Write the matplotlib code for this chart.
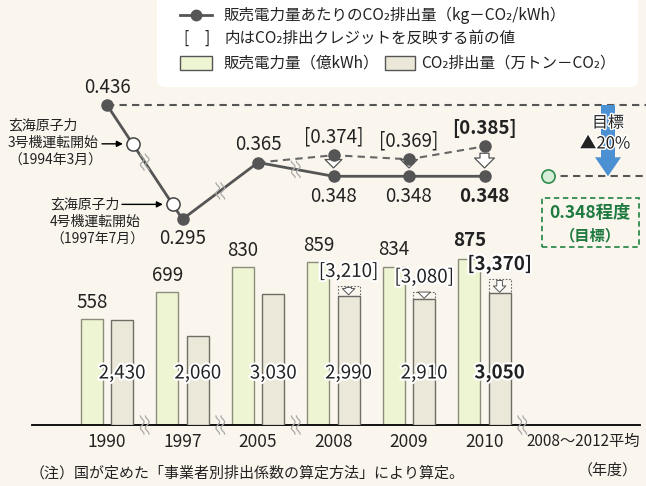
import numpy as np
import matplotlib.pyplot as plt
import matplotlib.patheffects as pe
from matplotlib.patches import FancyBboxPatch, Rectangle
from matplotlib.lines import Line2D
from matplotlib.transforms import IdentityTransform

plt.rcParams['font.family'] = ['Noto Sans CJK JP', 'DejaVu Sans']

# data
years = ['1990', '1997', '2005', '2008', '2009', '2010']
avg_label = '2008～2012平均'
sales = [558, 699, 830, 859, 834, 875]            # 億kWh
co2 = [2430, 2060, 3030, 2990, 2910, 3050]        # 万トン-CO2
co2_before = [3210, 3080, 3370]                   # 2008-2010, before credits
intensity = [0.436, 0.295, 0.365, 0.348, 0.348, 0.348]
intensity_before = [0.374, 0.369, 0.385]          # 2008-2010, before credits
target = 0.348
reduction = '▲20%'

W, H = 646, 486
BG = '#faf6ee'
GREEN = '#eef5d2'
BEIGE = '#ece8d9'
DARK = '#555555'
TXT = '#222222'
NUM = 13.5
halo = [pe.withStroke(linewidth=3, foreground='white')]
thin_halo = [pe.withStroke(linewidth=2, foreground='white')]

fig = plt.figure(figsize=(6.46, 4.86), dpi=100, facecolor=BG)


def fx(px):
    # pixel x -> category position
    return (px - 107) / 75.5


XL = (fx(0), fx(W))
x = np.arange(len(years))

# ---------------- bars ----------------
axg = fig.add_axes([0, 61 / H, 1, 185 / H])
axg.set_facecolor('none')
axg.set_xlim(XL)
axg.set_ylim(0, 185 / 0.19)
axc = axg.twinx()
axc.set_ylim(0, 185 / 0.0433)
for a in (axg, axc):
    for s in a.spines.values():
        s.set_visible(False)
    a.set_yticks([])

bw = 0.29
axg.bar(x - 0.2, sales, bw, color=GREEN, edgecolor='#8c8c7c', lw=1)
axc.bar(x + 0.2, co2, bw, color=BEIGE, edgecolor='#6e6e66', lw=1)
diff = np.subtract(co2_before, co2[3:])
axc.bar(x[3:] + 0.2, diff, bw, bottom=co2[3:], fill=False,
        edgecolor='#666666', ls=(0, (1.5, 1.5)), lw=0.8)
for xi, lo, hi in zip(x[3:], co2[3:], co2_before):
    axc.annotate('', xy=(xi + 0.2, lo), xytext=(xi + 0.2, hi),
                 arrowprops=dict(arrowstyle='simple,head_length=0.5,head_width=1.0,tail_width=0.45',
                                 fc='white', ec=DARK, lw=0.7, shrinkA=1, shrinkB=0.5,
                                 mutation_scale=9))

axg.plot([fx(32), fx(640)], [0, 0], color='black', lw=1.3, clip_on=False)

axg.set_xticks(list(x) + [fx(583)], years + [avg_label])
axg.tick_params(axis='x', length=0, pad=6, labelsize=12.5, labelcolor=TXT)
axg.get_xticklabels()[-1].set_fontsize(11)

for i, v in enumerate(sales):
    axg.annotate(f'{v}', (x[i] - 0.2, v), xytext=(0, 13 if i == 5 else 12),
                 textcoords='offset points', ha='center', va='center', fontsize=NUM,
                 color=TXT, fontweight='bold' if i == 5 else 'normal')
for i, v in enumerate(co2):
    axc.text(x[i] + 0.2, 0.281, f'{v:,}', transform=axc.get_xaxis_transform(),
             ha='center', va='center', fontsize=NUM, color=TXT,
             fontweight='bold' if i == 5 else 'normal', path_effects=halo)
for k, v in enumerate(co2_before):
    i = k + 3
    axc.annotate(f'[{v:,}]', (x[i] + 0.2, v), xytext=(0, 10.5), textcoords='offset points',
                 ha='center', va='center', fontsize=NUM, color=TXT,
                 fontweight='bold' if i == 5 else 'normal', path_effects=halo)

# ---------------- line ----------------
SC = 810
YT = 0.436 + 105 / SC
axl = fig.add_axes([0, 0, 1, 1])
axl.set_xlim(XL)
axl.set_ylim(YT - H / SC, YT)
axl.axis('off')
axl.patch.set_alpha(0)


def fy(py):
    return YT - py / SC


dash = (0, (3.5, 2.5))
axl.plot([0, XL[1]], [intensity[0]] * 2, ls=dash, color=DARK, lw=1.5, zorder=1)
axl.plot(x[2:], [intensity[2]] + intensity_before, ls=dash, color='#666666', lw=1.5, zorder=2)
axl.plot(x, intensity, color=DARK, lw=2, marker='o', ms=8, mfc=DARK, mec=DARK, zorder=3)
axl.plot(x[3:], intensity_before, 'o', color=DARK, ms=8, zorder=3)

# nuclear unit start markers on the 1990-1997 segment
hx = np.array([0.34, 0.87])
hy = np.interp(hx, x[:2], intensity[:2])
axl.plot(hx, hy, 'o', mfc='white', mec='#444444', mew=1.1, ms=9.5, zorder=4)

# target
axl.plot([fx(548), XL[1]], [target] * 2, ls=dash, color=DARK, lw=1.5, zorder=1)
axl.plot([fx(548)], [target], 'o', mfc='#d8eed8', mec='#2e8b4e', mew=1.2, ms=9.5, zorder=4)
axl.arrow(fx(608), intensity[0], 0, target - intensity[0], width=14 / 75.5,
          head_width=26 / 75.5, head_length=19 / SC, length_includes_head=True,
          fc='#4a90d2', ec='none', zorder=2)
axl.text(fx(608), fy(123), '目標', ha='center', va='center', fontsize=11.5,
         color=TXT, path_effects=thin_halo, zorder=5)
axl.text(fx(605), fy(144), reduction, ha='center', va='center', fontsize=12,
         color=TXT, path_effects=thin_halo, zorder=5)

# arrows from "before" to "after"
for k, v in enumerate(intensity_before):
    i = k + 3
    axl.annotate('', xy=(x[i], intensity[i]), xytext=(x[i], v),
                 arrowprops=dict(arrowstyle='simple,head_length=0.55,head_width=1.1,tail_width=0.5',
                                 fc='white', ec=DARK, lw=0.9, shrinkA=5, shrinkB=6,
                                 mutation_scale=13 if i == 5 else 11), zorder=2)

# value labels
offs = [12.5, -14, 13, -14.5, -14.5, -14.5]
for i, v in enumerate(intensity):
    axl.annotate(f'{v:.3f}', (x[i], v), xytext=(0, offs[i]), textcoords='offset points',
                 ha='center', va='center', fontsize=NUM, color=TXT,
                 fontweight='bold' if i == 5 else 'normal')
for k, v in enumerate(intensity_before):
    i = k + 3
    axl.annotate(f'[{v:.3f}]', (x[i], v), xytext=(0, 13), textcoords='offset points',
                 ha='center', va='center', fontsize=NUM, color=TXT,
                 fontweight='bold' if i == 5 else 'normal')


def px_y(ax, xd, yd):
    return H - ax.transData.transform((xd, yd))[1]


# nuclear plant notes
py1 = px_y(axl, hx[0], hy[0])
py2 = px_y(axl, hx[1], hy[1])
for j, s in enumerate(['玄海原子力', '3号機運転開始', '（1994年3月）']):
    fig.text(8 / W, 1 - (py1 - 18 + 17.5 * j) / H, s, ha='left', va='center',
             fontsize=10, color=TXT)
for j, s in enumerate(['玄海原子力', '4号機運転開始', '（1997年7月）']):
    fig.text(50 / W, 1 - (py2 + 17.5 * j) / H, s, ha='left', va='center',
             fontsize=10, color=TXT)
axl.annotate('', xy=(hx[0], hy[0]), xytext=(102, H - py1), textcoords='figure pixels',
             arrowprops=dict(arrowstyle='-|>', color='black', lw=1, shrinkA=0, shrinkB=7,
                             mutation_scale=9))
axl.annotate('', xy=(hx[1], hy[1]), xytext=(122, H - py2), textcoords='figure pixels',
             arrowprops=dict(arrowstyle='-|>', color='black', lw=1, shrinkA=0, shrinkB=7,
                             mutation_scale=9))


# wavy break marks
def wave(ax, xd, yd, h=16):
    cx, cy = ax.transData.transform((xd, yd))
    t = np.linspace(-1, 1, 40)
    for dx in (-2.5, 2.5):
        xs = cx + dx + 1.8 * np.sin(t * np.pi * 1.5)
        ys = cy + t * h / 2
        fig.add_artist(Line2D(xs, ys, transform=IdentityTransform(), color='#a8a8a8', lw=0.9,
                              zorder=6))


for i in range(3):
    wave(axl, x[i] + 0.5, np.interp(x[i] + 0.5, x, intensity))
for i in [0, 1, 2, 5]:
    wave(axg, x[i] + 0.5, 0, h=18)

# ---------------- legend box ----------------
fig.add_artist(FancyBboxPatch((157 / 100, (H - 87) / 100), (638 - 157) / 100, 1.2,
                              boxstyle='round,pad=0,rounding_size=0.08',
                              transform=fig.dpi_scale_trans, fc='white', ec='none', zorder=7))


def ftext(px, py, s, **kw):
    kw.setdefault('fontsize', 11.2)
    kw.setdefault('color', TXT)
    fig.text(px / W, 1 - py / H, s, va='center', zorder=8, **kw)


fig.add_artist(Line2D(np.array([180, 196, 212]) / W, [1 - 15 / H] * 3, transform=fig.transFigure,
                      color=DARK, lw=2, marker='o', ms=7.5, markevery=[1], zorder=8))
ftext(224, 15, '販売電力量あたりのCO₂排出量（kg－CO₂/kWh）')
ftext(183, 38, '[')
ftext(205, 38, ']')
ftext(224, 38, '内はCO₂排出クレジットを反映する前の値')
fig.add_artist(Rectangle((180 / W, 1 - 70 / H), 32 / W, 14 / H, transform=fig.transFigure,
                         fc=GREEN, ec='#555555', lw=1, zorder=8))
ftext(224, 63, '販売電力量（億kWh）')
fig.add_artist(Rectangle((385 / W, 1 - 70 / H), 30 / W, 14 / H, transform=fig.transFigure,
                         fc=BEIGE, ec='#555555', lw=1, zorder=8))
ftext(421, 63, 'CO₂排出量（万トン－CO₂）')

# target box
fig.add_artist(Rectangle((542 / W, 1 - 247 / H), 97 / W, 49 / H, transform=fig.transFigure,
                         fill=False, ec='#2e8b4e', ls=(0, (3, 2)), lw=1.3, zorder=8))
ftext(590, 213, f'{target}程度', ha='center', fontsize=12.5, fontweight='bold', color='#1f7a3f')
ftext(590, 235, '（目標）', ha='center', fontsize=11, fontweight='bold', color='#1f7a3f')

# notes
ftext(30, 473, '（注）国が定めた「事業者別排出係数の算定方法」により算定。', fontsize=10.8)
ftext(638, 470, '（年度）', ha='right', fontsize=10.8)

fig.savefig('out.png', dpi=100, facecolor=BG)
